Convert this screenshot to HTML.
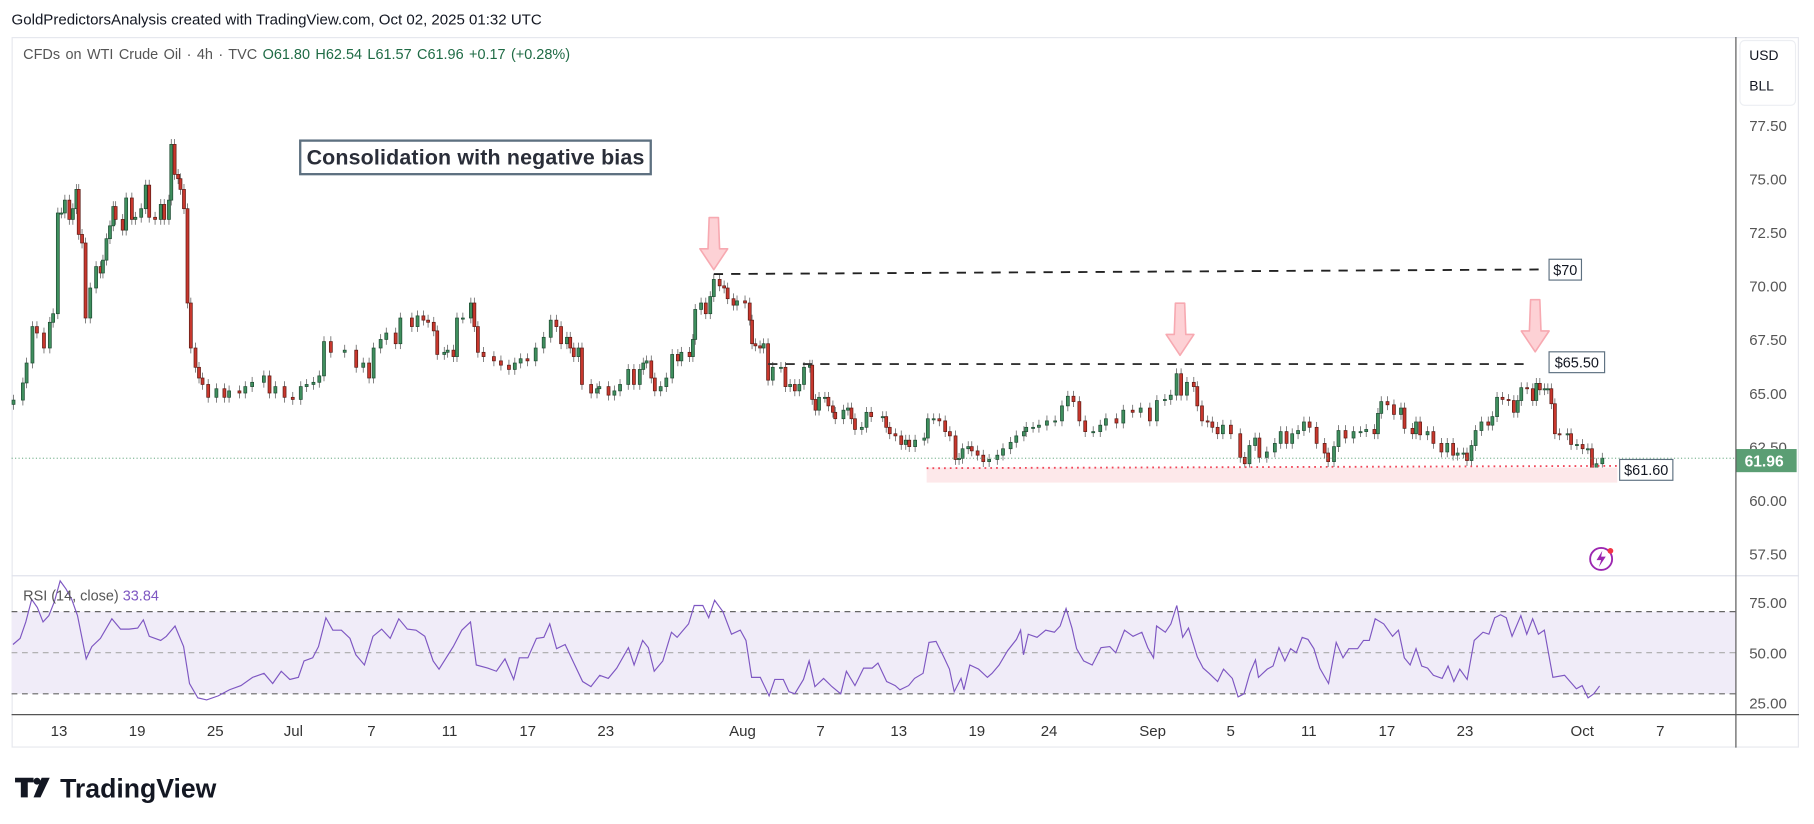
<!DOCTYPE html>
<html><head><meta charset="utf-8"><style>
html,body{margin:0;padding:0;background:#fff;width:1814px;height:824px;overflow:hidden}
svg{display:block}
text{font-family:"Liberation Sans",sans-serif}
</style></head><body>
<svg id="chart" width="1814" height="824" viewBox="0 0 1568 712" preserveAspectRatio="none" xmlns="http://www.w3.org/2000/svg">
<text x="10" y="21" font-size="13" fill="#131722">GoldPredictorsAnalysis created with TradingView.com, Oct 02, 2025 01:32 UTC</text>
<rect x="10.5" y="32.5" width="1544" height="613" fill="#fff" stroke="#e6e8ee"/>
<text x="20" y="51" font-size="12.5" fill="#555" word-spacing="1.2"><tspan>CFDs on WTI Crude Oil · 4h · TVC </tspan><tspan fill="#1f6b45">O61.80  H62.54  L61.57  C61.96  +0.17 (+0.28%)</tspan></text>
<g id="pricePane"></g>
<g id="rsiPane"></g>
<g id="axes"></g>
<g id="annot"></g>
<g>
<path d="M13 672h16v4h-5v13h-6v-13h-5z" fill="#131722"/>
<circle cx="32" cy="675" r="3" fill="#131722"/>
<path d="M36 672h7l-8 17h-6z" fill="#131722"/>
<text x="52" y="689" font-size="23" font-weight="bold" fill="#131722">TradingView</text>
</g>
</svg>
<script>
// ---- data ----
const closes = [64.67,65.47,66.4,68.1,67.8,67.1,68.3,68.7,73.4,73.4,74.0,73.1,73.6,74.5,72.4,72.0,68.5,69.9,70.9,70.6,71.2,72.2,72.8,73.7,73.1,72.6,74.1,73.1,73.2,73.6,74.7,73.2,73.1,73.8,73.1,74.0,76.6,75.2,75.0,74.5,73.6,69.2,67.1,66.2,65.7,65.4,64.8,65.2,64.8,65.1,65.0,65.3,65.5,65.8,65.0,65.3,64.8,64.7,65.3,65.4,65.5,65.8,67.4,66.9,67.0,66.2,66.4,65.7,67.1,67.5,67.8,67.3,68.5,68.1,68.6,68.4,68.3,67.9,66.8,66.9,67.0,66.7,68.5,68.5,69.2,68.1,66.9,66.7,66.5,66.3,66.1,66.4,66.6,66.5,67.1,67.6,68.4,68.1,67.3,67.6,67.1,66.7,67.1,65.4,65.0,65.2,
65.3,64.9,65.1,65.4,66.1,65.4,66.1,66.4,66.5,65.7,65.1,65.3,65.7,66.8,66.5,66.9,66.7,67.5,68.9,69.2,68.7,69.5,70.3,70.0,69.9,69.4,69.1,69.3,69.2,68.4,67.3,67.2,67.1,67.3,65.6,66.2,66.2,65.3,65.4,65.1,65.4,66.2,66.3,64.7,64.2,64.8,64.8,64.4,64.1,63.8,64.2,64.3,63.8,63.3,63.4,64.1,63.9,63.9,63.4,63.1,63.0,62.6,62.8,62.5,62.8,62.9,63.8,63.8,63.7,63.2,63.0,61.9,61.95,62.4,62.5,62.3,62.1,61.8,61.9,62.1,62.4,62.7,63.0,63.2,63.4,63.4,63.5,63.7,63.7,64.4,64.85,64.6,63.7,63.2,63.2,63.5,63.8,63.6,64.2,64.1,64.3,63.7,64.65,64.7,64.9,
65.9,64.9,65.5,65.3,64.4,63.7,63.65,63.4,63.1,63.5,63.1,62.0,61.7,62.55,62.9,62.0,62.25,62.65,63.2,62.65,63.1,63.25,63.65,63.4,62.65,62.2,61.8,62.5,63.25,62.9,63.2,63.2,63.3,63.1,64.05,64.6,64.45,64.0,64.3,63.35,63.1,63.65,63.05,63.2,62.65,62.25,62.65,62.1,62.2,62.2,61.85,62.55,63.25,63.65,63.5,63.9,64.8,64.7,64.65,64.1,64.65,65.25,65.2,64.65,65.45,65.15,65.2,65.2,64.5,63.1,63.05,63.1,62.6,62.6,62.4,62.4,61.5,61.7,61.96];
// time of each candle, in trading days since Jun 13
const closeDays = [-2.33,-1.85,-1.66,-1.36,-1.13,-0.77,-0.47,-0.30,-0.06,0.12,0.30,0.53,0.71,0.89,1.01,1.18,1.36,1.60,1.90,2.13,2.25,2.43,2.61,2.78,2.90,3.26,3.44,3.73,3.91,4.21,4.44,4.62,4.92,5.21,5.39,5.63,5.75,5.92,6.10,6.22,6.40,6.58,6.75,6.99,7.17,7.35,7.64,8.06,8.47,8.71,9.24,9.54,9.89,10.49,10.78,11.08,11.55,11.97,12.38,12.68,13.03,13.33,13.57,13.92,14.63,15.22,15.58,15.88,16.11,16.47,16.76,17.24,17.48,18.07,18.36,18.66,18.90,19.19,19.37,19.73,19.90,20.20,20.38,20.68,21.09,21.27,21.45,21.74,22.27,22.63,23.04,23.34,23.64,23.99,24.41,24.82,25.18,25.47,25.71,26.01,26.18,26.36,26.60,26.78,27.25,27.55,
27.67,28.14,28.44,28.73,29.15,29.44,29.74,29.92,30.09,30.33,30.51,30.81,31.10,31.40,31.69,31.87,32.29,32.46,32.58,32.88,33.12,33.35,33.53,33.83,34.06,34.24,34.54,34.72,35.13,35.37,35.49,35.66,35.90,36.08,36.31,36.55,36.97,37.20,37.44,37.68,37.91,38.15,38.45,38.57,38.74,38.92,39.22,39.40,39.63,39.75,40.17,40.40,40.58,40.76,41.11,41.35,41.59,42.18,42.36,42.54,42.83,43.13,43.36,43.54,43.84,44.31,44.49,44.79,45.08,45.38,45.62,45.91,46.09,46.27,46.56,46.74,47.04,47.33,47.63,48.05,48.34,48.73,49.02,49.41,49.53,49.88,50.18,50.59,51.01,51.36,51.66,51.95,52.25,52.55,52.96,53.32,53.61,54.15,54.50,54.98,55.39,55.86,56.22,56.63,56.93,
57.23,57.46,57.76,58.11,58.29,58.53,58.82,59.06,59.33,59.60,60.01,60.49,60.72,60.96,61.25,61.47,61.85,62.26,62.56,62.86,63.15,63.45,63.75,64.04,64.40,64.81,64.99,65.29,65.52,65.88,66.29,66.65,66.94,67.36,67.54,67.71,68.03,68.36,68.72,68.90,69.31,69.49,69.70,70.08,70.38,70.79,71.09,71.39,71.62,71.92,72.10,72.33,72.54,72.84,73.19,73.40,73.64,73.92,74.23,74.50,74.70,74.88,75.18,75.47,75.65,75.83,76.07,76.24,76.42,76.60,76.84,77.25,77.43,77.73,78.02,78.29,78.50,78.73,79.03];
const rsiValues = [54,57,65,76,72,65,68,75,85,81,76,68,47,53,57,66.5,61.5,61.5,62,66,58,56,58,63,53,35,28,27,29,32,34,38,40,35,41,37,38,46,47.5,53,67,61,61,57,49,44,58,61.5,57,66.5,61.5,61,58,46,42,53,61,65,44,42.5,41,47,37,47.5,47.5,57,57.5,64,52,54,45,36,33.5,39,37.5,42.5,52.5,44,56,52.5,41,46,60,57.5,64,73,73,67,75.5,70,59,61,56,38,38,29,37,37,31,30,37,46,33.5,37.5,33.5,30,41,34,42.5,42.5,45,36,34,
32,34,37.5,40,55,55.5,48,42,31,37.5,32,44,42,38,40,44,51,56.5,61,49,59,57.5,61,60,63,71.5,62,52,46,44,52.5,53,50,61,58,60,52.5,47.5,63,60,64,73,57.5,62,48,42.5,40,36,42,37.5,28.5,30,40,46.5,38,42,43.5,52.5,46,52,50,57.5,56.5,52,42.5,35,55,47.5,52,52,56,56,66.5,64,58,61,47.5,44,52,43.5,42.5,39,37.5,43.5,36,42,37,56,60,59,67,68.5,67,58,68,59,66.5,59,61,38,39,32.5,34,28,30,33.84];
const rsiDays = [-2.36,-1.99,-1.70,-1.40,-1.11,-0.82,-0.52,-0.23,0.06,0.36,0.65,0.95,1.39,1.68,2.12,2.71,3.15,3.59,4.03,4.32,4.62,5.21,5.50,5.94,6.38,6.68,7.11,7.56,8.15,8.73,9.32,9.91,10.50,10.94,11.38,11.82,12.26,12.55,12.99,13.29,13.67,14.02,14.46,14.90,15.20,15.64,16.08,16.52,16.96,17.40,17.84,18.28,18.73,19.16,19.46,20.19,20.63,21.07,21.37,21.95,22.40,22.84,23.28,23.57,24.01,24.45,24.83,25.13,25.48,25.92,26.36,26.81,27.24,27.69,28.13,28.56,29.16,29.45,29.89,30.18,30.48,30.92,31.36,31.65,32.24,32.53,32.97,33.27,33.57,34.00,34.44,34.89,35.18,35.47,35.91,36.36,36.65,37.09,37.38,37.68,38.12,38.41,38.71,39.15,39.58,40.03,40.32,40.76,41.20,41.64,41.94,42.38,42.82,
43.06,43.51,43.81,44.25,44.55,44.91,45.30,45.60,45.84,46.19,46.34,46.64,47.09,47.54,47.78,48.14,48.58,49.03,49.24,49.39,49.63,50.08,50.53,50.97,51.27,51.57,51.87,52.11,52.47,52.91,53.36,53.81,54.11,54.56,55.00,55.45,55.75,56.05,56.20,56.65,56.94,57.24,57.54,57.84,58.29,58.59,58.89,59.33,59.63,60.08,60.38,60.68,60.98,61.27,61.42,61.87,62.17,62.47,62.77,63.07,63.36,63.66,63.96,64.26,64.56,65.01,65.40,65.75,66.05,66.50,66.80,67.10,67.40,67.84,68.29,68.59,68.89,69.19,69.49,69.78,70.08,70.38,70.83,71.13,71.43,71.73,72.11,72.47,72.92,73.22,73.52,73.82,74.11,74.41,74.86,75.16,75.46,75.76,76.06,76.50,77.10,77.70,78.00,78.30,78.59,78.89];
const priceTicks = [57.5,60,62.5,65,67.5,70,72.5,75,77.5];
const rsiTicks = [25,50,75];
const rsiLevels = [30,50,70];
const timeLabels = ["13","19","25","Jul","7","11","17","23","Aug","7","13","19","24","Sep","5","11","17","23","Oct","7"];
const timeDays = [0,4,8,12,16,20,24,28,35,39,43,47,50.7,56,60,64,68,72,78,82];
const lastPrice = 61.96, support = 61.6, res70 = 70.55, res655 = 66.35;

// ---- scales ----
const NS="http://www.w3.org/2000/svg";
const xDay = d => 51 + d*16.88;
const yP = p => 247 - (p-70)*18.52;
const yR = r => 564 - (r-50)*1.775;
function mk(tag,attrs,parent){const e=document.createElementNS(NS,tag);for(const k in attrs)e.setAttribute(k,attrs[k]);parent.appendChild(e);return e;}

const pp=document.getElementById('pricePane');
const rp=document.getElementById('rsiPane');
const ax=document.getElementById('axes');
const an=document.getElementById('annot');

let e;
e=mk('line',{x1:10,x2:1555,y1:497.5,y2:497.5,stroke:'#e0e3eb'},ax);


e=mk('line',{x1:10,x2:1555,y1:617.5,y2:617.5,stroke:'#555',"stroke-width":1},ax);


e=mk('line',{x1:1500.5,x2:1500.5,y1:32,y2:646,stroke:'#555',"stroke-width":1},ax);



e=mk('rect',{x:1504,y:35,width:48,height:56,rx:4,fill:'#fff',stroke:'#eceef2'},ax);


e=mk('text',{x:1512,y:52,"font-size":12,fill:'#131722'},ax);e.textContent='USD';


e=mk('text',{x:1512,y:78,"font-size":12,fill:'#131722'},ax);e.textContent='BLL';



priceTicks.forEach(p=>{
  const t=mk('text',{x:1512,y:yP(p)+5,"font-size":13,fill:'#555'},ax);
  t.textContent=p.toFixed(2);
  
  
});
rsiTicks.forEach(r=>{
  const t=mk('text',{x:1512,y:yR(r===75?69.5:r===25?29.5:r)+5+(r===75?-9:r===25?7:0),"font-size":13,fill:'#555'},ax);
  t.textContent=r.toFixed(2);
  
  
});
timeLabels.forEach((lab,i)=>{
  const t=mk('text',{x:xDay(timeDays[i]),y:636,"font-size":13,fill:'#333',"text-anchor":'middle'},ax);
  t.textContent=lab;
  
  
});

// support zone
e=mk('rect',{x:801,y:404,width:597,height:13,fill:'#fde8ea'},an);


e=mk('line',{x1:801,x2:1398,y1:yP(support)+2,y2:yP(support),stroke:'#f0485a',"stroke-width":1.6,"stroke-dasharray":'1.5 3.5'},an);



e=mk('line',{x1:10,x2:1500,y1:yP(lastPrice),y2:yP(lastPrice),stroke:'#4e9a6c',"stroke-width":0.8,"stroke-dasharray":'1 2'},an);



// candles
const n=Math.min(closes.length,closeDays.length);
const bw=2.6;
for(let i=0;i<n;i++){
  const o=i>0?closes[i-1]:closes[0]-0.2, c=closes[i];
  const up=c>=o, x=xDay(closeDays[i]);
  const hi=Math.max(o,c)+0.25, lo=Math.min(o,c)-0.25;
  const w=mk('line',{x1:x,x2:x,y1:yP(hi),y2:yP(lo),stroke:'#666',"stroke-width":0.7},pp);
  
  
  const top=yP(Math.max(o,c)), h=Math.max(1,Math.abs(yP(o)-yP(c)));
  const b=mk('rect',{x:x-bw/2,y:top,width:bw,height:h,fill:up?'#3f8f5e':'#c8372d',stroke:up?'#1d4a31':'#5b1a14',"stroke-width":0.6},pp);
  
  
}

e=mk('line',{x1:617,x2:1337,y1:yP(res70),y2:yP(res70)-4,stroke:'#222',"stroke-width":1.6,"stroke-dasharray":'8 7'},an);


e=mk('line',{x1:664,x2:1322,y1:yP(res655),y2:yP(res655),stroke:'#333',"stroke-width":1.6,"stroke-dasharray":'8 7'},an);



function label(x,y,w,txt,name){
  const r=mk('rect',{x:x,y:y,width:w,height:18,fill:'#fff',stroke:'#5d7080',"stroke-width":1},an);
  
  
  const t=mk('text',{x:x+w/2,y:y+13.5,"font-size":12.5,fill:'#131722',"text-anchor":'middle'},an);
  t.textContent=txt;
  
  
}
label(1339,224,28,'$70','label-70');
label(1339,304,48,'$65.50','label-65-50');
label(1400,397,46,'$61.60','label-61-60');

e=mk('rect',{x:259.5,y:121.5,width:303,height:29,fill:'#fff',stroke:'#5d7080',"stroke-width":2},an);


e=mk('text',{x:411,y:142,"font-size":18.5,fill:'#2a2e39',"text-anchor":'middle',"font-weight":'bold',"textLength":292},an);e.textContent='Consolidation with negative bias';



// arrows
[[617,188],[1020,262],[1327,259]].forEach(([cx,ty])=>{
  const a=mk('path',{d:`M${cx-4} ${ty} L${cx+4} ${ty} L${cx+5} ${ty+27} L${cx+12} ${ty+27} L${cx} ${ty+45} L${cx-12} ${ty+27} L${cx-5} ${ty+27} Z`,fill:'#fdd1d5',stroke:'#f7a9b1',"stroke-width":1.4,"stroke-linejoin":'round'},an);
  
  
});

e=mk('rect',{x:1501,y:388,width:52,height:20,fill:'#5b9e74'},an);


e=mk('text',{x:1508,y:403,"font-size":13.5,fill:'#fff',"font-weight":'bold'},an);e.textContent='61.96';



e=mk('circle',{cx:1384,cy:483,r:9.5,fill:'#fff',stroke:'#9c27b0',"stroke-width":1.6},an);


e=mk('path',{d:'M1385 476 L1380 484 L1384 484 L1382 490 L1388 481 L1384 481 Z',fill:'#9c27b0'},an);


e=mk('circle',{cx:1392,cy:476,r:2.5,fill:'#f23645'},an);



// RSI
e=mk('rect',{x:10,y:yR(70),width:1490,height:yR(30)-yR(70),fill:'#f0ecf8'},rp);


rsiLevels.forEach(l=>{
  const ln=mk('line',{x1:10,x2:1500,y1:yR(l),y2:yR(l),stroke:l===50?'#aaa':'#666',"stroke-width":1,"stroke-dasharray":'5 4'},rp);
  
  
});
const rn=Math.min(rsiValues.length,rsiDays.length);
let d='';
for(let i=0;i<rn;i++){d+=(i?'L':'M')+xDay(rsiDays[i]).toFixed(1)+' '+yR(rsiValues[i]).toFixed(1)+' ';}
e=mk('path',{d:d,fill:'none',stroke:'#7e57c2',"stroke-width":1},rp);


e=mk('text',{x:20,y:519,"font-size":12.5,fill:'#555'},rp);
e.innerHTML='RSI (14, close) <tspan fill="#7e57c2">33.84</tspan>';


</script>
</body></html>
